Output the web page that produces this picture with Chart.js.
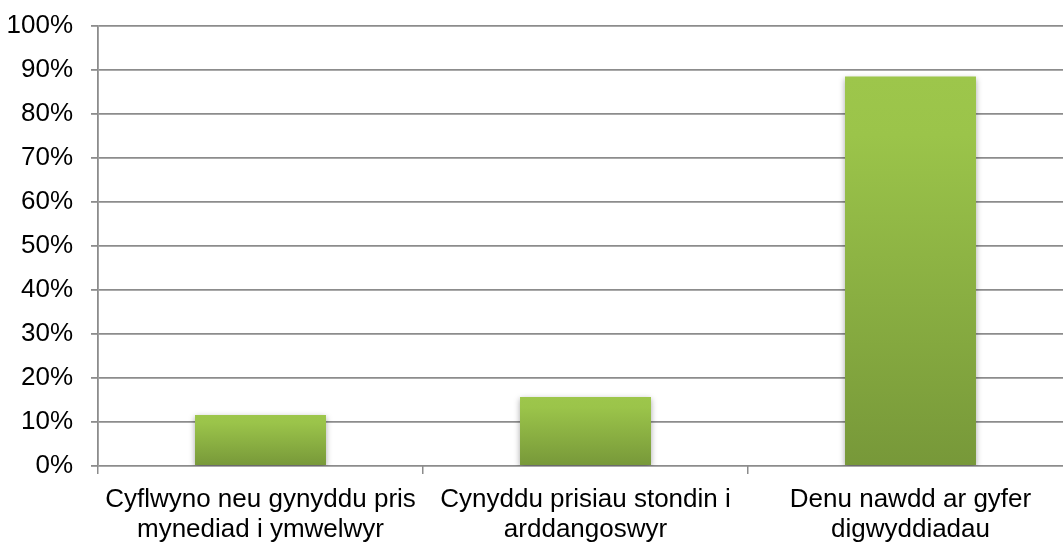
<!DOCTYPE html>
<html>
<head>
<meta charset="utf-8">
<script src="https://cdn.jsdelivr.net/npm/chart.js"></script>
<style>
  body { margin: 0; overflow: hidden; background: #fff; }
  #wrap { width: 1073px; height: 543px; }
</style>
</head>
<body>
<div id="wrap"><canvas id="canvas_bar" width="1073" height="543"></canvas></div>
<script>
// data
const labels_bar = [
  ['Cyflwyno neu gynyddu pris', 'mynediad i ymwelwyr'],
  ['Cynyddu prisiau stondin i', 'arddangoswyr'],
  ['Denu nawdd ar gyfer', 'digwyddiadau']
];
const values_bar = [11.6, 15.7, 88.5];
const ticks_y = [0, 10, 20, 30, 40, 50, 60, 70, 80, 90, 100];

const gridColor = '#8c8c8c';
const fontBase = { family: '"Liberation Sans", Arial, sans-serif', size: 26, lineHeight: 1.15 };

// soft drop shadow under the bars
const barShadow = {
  id: 'barShadow',
  beforeDatasetsDraw(chart) {
    const c = chart.ctx;
    c.save();
    c.shadowColor = 'rgba(0,0,0,0.35)';
    c.shadowBlur = 6;
    c.shadowOffsetX = 0;
    c.shadowOffsetY = 2;
  },
  afterDatasetsDraw(chart) {
    chart.ctx.restore();
  }
};

function barGradient(context) {
  const chart = context.chart;
  if (!chart.chartArea) return '#8db143';
  const y = chart.scales.y;
  const v = context.raw;
  const top = y.getPixelForValue(v);
  const bottom = y.getPixelForValue(0);
  const g = chart.ctx.createLinearGradient(0, top, 0, bottom);
  g.addColorStop(0, '#9dc64b');
  g.addColorStop(0.15, '#9bc44a');
  g.addColorStop(1, '#779839');
  return g;
}

const config_bar = {
  type: 'bar',
  data: {
    labels: labels_bar,
    datasets: [{
      data: values_bar,
      backgroundColor: barGradient,
      borderWidth: 0,
      barPercentage: 0.403,
      categoryPercentage: 1
    }]
  },
  options: {
    responsive: false,
    animation: false,
    devicePixelRatio: 1,
    layout: { padding: { top: 26, right: 0, left: 0, bottom: 0 } },
    plugins: { legend: { display: false }, tooltip: { enabled: false } },
    scales: {
      x: {
        offset: true,
        grid: {
          offset: true,
          drawOnChartArea: false,
          drawTicks: true,
          tickLength: 8,
          color: gridColor,
          lineWidth: 1.5
        },
        border: { display: false },
        ticks: {
          color: '#000',
          font: fontBase,
          padding: 11,
          maxRotation: 0,
          autoSkip: false
        },
        afterFit(scale) { scale.height = 77; scale.paddingLeft = 0; scale.paddingRight = 0; }
      },
      y: {
        min: 0,
        max: 100,
        afterBuildTicks(scale) {
          scale.ticks = ticks_y.map(v => ({ value: v }));
        },
        grid: {
          color: gridColor,
          lineWidth: 1.8,
          tickLength: 7
        },
        border: { display: true, color: gridColor, width: 1.8 },
        ticks: {
          color: '#000',
          font: fontBase,
          padding: 18,
          callback: v => v + '%'
        },
        afterFit(scale) { scale.width = 98; scale.paddingTop = 0; scale.paddingBottom = 0; }
      }
    }
  },
  plugins: [barShadow]
};

const canvas_bar = document.getElementById('canvas_bar');
const chart_bar = new Chart(canvas_bar, config_bar);
</script>
</body>
</html>
